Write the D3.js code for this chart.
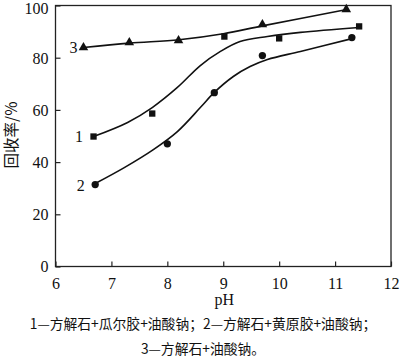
<!DOCTYPE html>
<html>
<head>
<meta charset="utf-8">
<script src="https://cdn.jsdelivr.net/npm/d3@7"></script>
<style>
  body{margin:0;background:#fff}
  svg text{font-family:"Liberation Serif","DejaVu Serif",serif;fill:#111}
  svg text.cn{font-family:"Noto Sans CJK SC","Noto Sans",sans-serif}
</style>
</head>
<body>
<script>
// measured points (pH, recovery %)
const pH1 = [6.68, 7.73, 9.02, 10.0, 11.43]
const rec1 = [49.8, 58.6, 88.1, 87.4, 92.0]
const pH2 = [6.71, 8.0, 8.84, 9.7, 11.3]
const rec2 = [31.4, 47.0, 66.6, 80.8, 87.7]
const pH3 = [6.5, 7.32, 8.2, 9.7, 11.2]
const rec3 = [83.9, 85.8, 86.6, 92.7, 98.5]

// fitted curves
const fitX1 = [6.68, 7.29, 7.73, 8.18, 8.59, 8.95, 9.30, 9.79, 10.38, 11.43]
const fitY1 = [49.8, 55.2, 60.9, 68.6, 77.0, 82.4, 86.2, 88.1, 89.7, 91.6]
const fitX2 = [6.71, 7.23, 7.75, 8.18, 8.59, 8.84, 9.18, 9.48, 9.79, 10.38, 11.32]
const fitY2 = [31.8, 37.9, 44.8, 51.7, 60.9, 66.7, 72.8, 76.6, 79.3, 82.4, 87.4]
const fitX3 = [6.5, 7.32, 8.21, 9.0, 9.70, 11.21]
const fitY3 = [83.9, 85.6, 86.9, 89.2, 92.2, 98.5]

const xTicks = [6, 7, 8, 9, 10, 11, 12]
const yTicks = [0, 20, 40, 60, 80, 100]
const curveLabels = ["1", "2", "3"]
const caption = ["1—方解石+瓜尔胶+油酸钠；2—方解石+黄原胶+油酸钠；", "3—方解石+油酸钠。"]

const W = 400, H = 361
const padL = 55.5, padR = 391, padT = 5.5, padB = 266.5

const svg = d3.select("body").append("svg").attr("width", W).attr("height", H)

const x = d3.scaleLinear().domain([6, 12]).range([padL, padR])
const y = d3.scaleLinear().domain([0, 100]).range([padB, padT])

// frame
svg.append("rect")
  .attr("x", padL).attr("y", padT)
  .attr("width", padR - padL).attr("height", padB - padT)
  .attr("fill", "none").attr("stroke", "#222").attr("stroke-width", 1.3)

// inward ticks
const xAxis = svg.append("g").attr("transform", `translate(0,${padB})`)
  .call(d3.axisBottom(x).tickValues(xTicks).tickSize(-5).tickPadding(11).tickFormat(d3.format("d")))
const yAxis = svg.append("g").attr("transform", `translate(${padL},0)`)
  .call(d3.axisLeft(y).tickValues(yTicks).tickSize(-5).tickPadding(7).tickFormat(d3.format("d")))
;[xAxis, yAxis].forEach(g => {
  g.attr("font-family", null).attr("font-size", null)
  g.select(".domain").remove()
  g.selectAll(".tick line").attr("stroke", "#222").attr("stroke-width", 1.2)
  g.selectAll("text").style("font-size", "16px").style("font-family", "'Liberation Serif', serif").style("fill", "#111")
})
yAxis.selectAll("text").attr("dy", "0.34em")
yAxis.selectAll(".tick").filter(d => d === 100).select("text").attr("dy", "0.5em")

// axis titles
svg.append("text").attr("x", x(9) + 1).attr("y", 305)
  .attr("text-anchor", "middle").style("font-size", "16px").text("pH")
svg.append("text").attr("class", "cn")
  .attr("transform", `translate(17,135) rotate(-90)`)
  .attr("text-anchor", "middle").style("font-size", "15.5px").text("回收率/%")

// curves
const line = d3.line().x(d => x(d[0])).y(d => y(d[1])).curve(d3.curveCatmullRom.alpha(0.5))
const fits = [[fitX1, fitY1], [fitX2, fitY2], [fitX3, fitY3]]
fits.forEach(([xs, ys]) => {
  svg.append("path")
    .datum(xs.map((v, i) => [v, ys[i]]))
    .attr("d", line)
    .attr("fill", "none").attr("stroke", "#111").attr("stroke-width", 1.6)
})

// markers
const pts = [[pH1, rec1, d3.symbolSquare, 40], [pH2, rec2, d3.symbolCircle, 42], [pH3, rec3, d3.symbolTriangle, 40]]
pts.forEach(([xs, ys, sym, size]) => {
  svg.append("g").selectAll("path")
    .data(xs.map((v, i) => [v, ys[i]]))
    .join("path")
    .attr("transform", d => `translate(${x(d[0])},${y(d[1])})`)
    .attr("d", d3.symbol().type(sym).size(size))
    .attr("fill", "#111")
})

// curve labels
const labelPos = [[6.42, 49.8], [6.45, 31.0], [6.32, 83.9]]
curveLabels.forEach((t, i) => {
  svg.append("text")
    .attr("x", x(labelPos[i][0])).attr("y", y(labelPos[i][1]))
    .attr("dy", "0.36em").attr("text-anchor", "middle")
    .style("font-size", "16px").text(t)
})

// caption
caption.forEach((t, i) => {
  svg.append("text").attr("class", "cn")
    .attr("x", 203).attr("y", 329 + i * 25)
    .attr("text-anchor", "middle").style("font-size", "13.8px").text(t)
})
</script>
</body>
</html>
